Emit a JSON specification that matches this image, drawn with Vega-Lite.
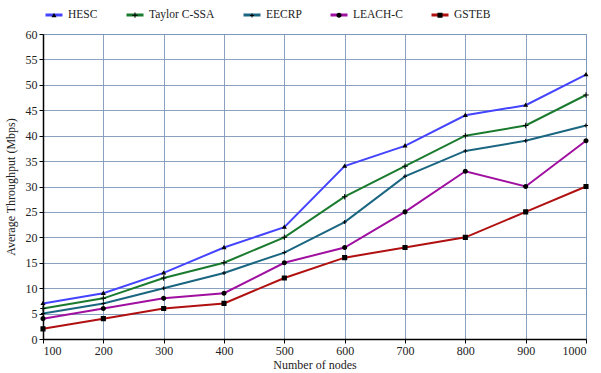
{
  "$schema": "https://vega.github.io/schema/vega-lite/v6.json",
  "width": 543,
  "height": 305,
  "autosize": {"type": "none"},
  "padding": {"left": 43, "top": 34, "right": 15, "bottom": 34},
  "background": "white",
  "config": {
    "font": "Liberation Serif, serif",
    "view": {"stroke": "#7d97b8", "strokeWidth": 1},
    "axis": {
      "labelFont": "Liberation Serif, serif",
      "titleFont": "Liberation Serif, serif",
      "labelFontSize": 12,
      "titleFontSize": 12,
      "titleFontWeight": "normal",
      "labelColor": "#222",
      "titleColor": "#222",
      "gridColor": "#7d97b8",
      "gridOpacity": 0.9,
      "domainColor": "black",
      "domainWidth": 1.5,
      "tickColor": "black",
      "tickSize": 4
    },
    "legend": {
      "labelFont": "Liberation Serif, serif",
      "labelFontSize": 11.5,
      "labelColor": "#222",
      "orient": "none",
      "legendX": 1,
      "legendY": -29,
      "direction": "horizontal",
      "symbolSize": 289,
      "symbolStrokeWidth": 3,
      "columnPadding": 22,
      "labelOffset": 4,
      "padding": 0
    }
  },
  "data": {
    "values": [
      {"nodes": 100, "series": "HESC", "value": 7},
      {"nodes": 200, "series": "HESC", "value": 9},
      {"nodes": 300, "series": "HESC", "value": 13},
      {"nodes": 400, "series": "HESC", "value": 18},
      {"nodes": 500, "series": "HESC", "value": 22},
      {"nodes": 600, "series": "HESC", "value": 34},
      {"nodes": 700, "series": "HESC", "value": 38},
      {"nodes": 800, "series": "HESC", "value": 44},
      {"nodes": 900, "series": "HESC", "value": 46},
      {"nodes": 1000, "series": "HESC", "value": 52},
      {"nodes": 100, "series": "Taylor C-SSA", "value": 6},
      {"nodes": 200, "series": "Taylor C-SSA", "value": 8},
      {"nodes": 300, "series": "Taylor C-SSA", "value": 12},
      {"nodes": 400, "series": "Taylor C-SSA", "value": 15},
      {"nodes": 500, "series": "Taylor C-SSA", "value": 20},
      {"nodes": 600, "series": "Taylor C-SSA", "value": 28},
      {"nodes": 700, "series": "Taylor C-SSA", "value": 34},
      {"nodes": 800, "series": "Taylor C-SSA", "value": 40},
      {"nodes": 900, "series": "Taylor C-SSA", "value": 42},
      {"nodes": 1000, "series": "Taylor C-SSA", "value": 48},
      {"nodes": 100, "series": "EECRP", "value": 5},
      {"nodes": 200, "series": "EECRP", "value": 7},
      {"nodes": 300, "series": "EECRP", "value": 10},
      {"nodes": 400, "series": "EECRP", "value": 13},
      {"nodes": 500, "series": "EECRP", "value": 17},
      {"nodes": 600, "series": "EECRP", "value": 23},
      {"nodes": 700, "series": "EECRP", "value": 32},
      {"nodes": 800, "series": "EECRP", "value": 37},
      {"nodes": 900, "series": "EECRP", "value": 39},
      {"nodes": 1000, "series": "EECRP", "value": 42},
      {"nodes": 100, "series": "LEACH-C", "value": 4},
      {"nodes": 200, "series": "LEACH-C", "value": 6},
      {"nodes": 300, "series": "LEACH-C", "value": 8},
      {"nodes": 400, "series": "LEACH-C", "value": 9},
      {"nodes": 500, "series": "LEACH-C", "value": 15},
      {"nodes": 600, "series": "LEACH-C", "value": 18},
      {"nodes": 700, "series": "LEACH-C", "value": 25},
      {"nodes": 800, "series": "LEACH-C", "value": 33},
      {"nodes": 900, "series": "LEACH-C", "value": 30},
      {"nodes": 1000, "series": "LEACH-C", "value": 39},
      {"nodes": 100, "series": "GSTEB", "value": 2},
      {"nodes": 200, "series": "GSTEB", "value": 4},
      {"nodes": 300, "series": "GSTEB", "value": 6},
      {"nodes": 400, "series": "GSTEB", "value": 7},
      {"nodes": 500, "series": "GSTEB", "value": 12},
      {"nodes": 600, "series": "GSTEB", "value": 16},
      {"nodes": 700, "series": "GSTEB", "value": 18},
      {"nodes": 800, "series": "GSTEB", "value": 20},
      {"nodes": 900, "series": "GSTEB", "value": 25},
      {"nodes": 1000, "series": "GSTEB", "value": 30}
    ]
  },
  "encoding": {
    "x": {
      "field": "nodes",
      "type": "quantitative",
      "scale": {"domain": [100, 1000], "nice": false, "zero": false},
      "axis": {"values": [100,200,300,400,500,600,700,800,900,1000], "format": "d", "title": "Number of nodes", "titlePadding": 3, "labelPadding": 2}
    },
    "y": {
      "field": "value",
      "type": "quantitative",
      "scale": {"domain": [0, 60], "nice": false},
      "axis": {"values": [0,5,10,15,20,25,30,35,40,45,50,55,60], "title": "Average Throughput (Mbps)", "titlePadding": 8, "labelPadding": 2}
    }
  },
  "layer": [
    {
      "mark": {"type": "line", "strokeWidth": 2},
      "encoding": {
        "color": {
          "field": "series",
          "type": "nominal",
          "scale": {
            "domain": ["HESC", "Taylor C-SSA", "EECRP", "LEACH-C", "GSTEB"],
            "range": ["#4444ff", "#1a7a2e", "#1a6680", "#a010a0", "#b01010"]
          },
          "legend": {
            "title": null,
            "symbolType": "stroke"
          }
        }
      }
    },
    {
      "mark": {"type": "point", "filled": true, "color": "black", "opacity": 1, "size": 289, "strokeWidth": 0},
      "encoding": {
        "shape": {
          "field": "series",
          "type": "nominal",
          "scale": {
            "domain": ["HESC", "Taylor C-SSA", "EECRP", "LEACH-C", "GSTEB", "zz"],
            "range": [
              "M-1,0H1M0,-0.32L0.3,0.2L-0.3,0.2Z",
              "M-1,0H1M-0.32,-0.06H-0.06V-0.32H0.06V-0.06H0.32V0.06H0.06V0.32H-0.06V0.06H-0.32Z",
              "M-1,0H1M-0.24,-0.06H-0.06V-0.24H0.06V-0.06H0.24V0.06H0.06V0.24H-0.06V0.06H-0.24Z",
              "M-1,0H1M-0.3,0A0.3,0.3,0,1,0,0.3,0A0.3,0.3,0,1,0,-0.3,0Z",
              "M-1,0H1M-0.3,-0.3H0.3V0.3H-0.3Z",
              "circle"
            ]
          },
          "legend": {
            "values": ["HESC", "Taylor C-SSA", "EECRP", "LEACH-C", "GSTEB"],
            "title": null,
            "symbolFillColor": "black",
            "symbolStrokeColor": "transparent",
            "symbolStrokeWidth": 3,
            "labelOpacity": 0
          }
        }
      }
    }
  ]
}
